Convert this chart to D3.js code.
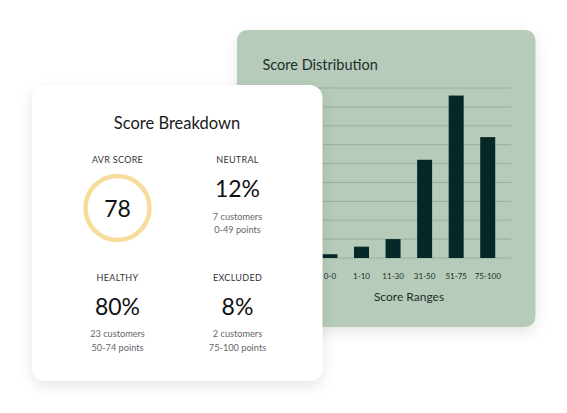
<!DOCTYPE html>
<html><head><meta charset="utf-8">
<script src="https://cdn.jsdelivr.net/npm/d3@7/dist/d3.min.js"></script>
<style>
html,body{margin:0;padding:0;background:#ffffff;}
svg{display:block;font-family:Lato,"Noto Sans",sans-serif;}
</style></head>
<body>
<svg id="chart" width="567" height="413"></svg>
<script>
// ---- data ----
const categories = ["0-0", "1-10", "11-30", "31-50", "51-75", "75-100"];
const counts = [1, 3, 5, 26, 43, 32];
const gridTicks = [0, 5, 10, 15, 20, 25, 30, 35, 40, 45];
const chartTitle = "Score Distribution";
const xAxisTitle = "Score Ranges";
const cardTitle = "Score Breakdown";
const avgScore = 78;
const statLabels = ["NEUTRAL", "HEALTHY", "EXCLUDED"];
const statPercents = ["12%", "80%", "8%"];
const statCustomers = ["7 customers", "23 customers", "2 customers"];
const statPoints = ["0-49 points", "50-74 points", "75-100 points"];

const svg = d3.select("#chart");
const defs = svg.append("defs");
const f = defs.append("filter").attr("id","sh").attr("x","-20%").attr("y","-20%").attr("width","140%").attr("height","140%");
f.append("feDropShadow").attr("dx",0).attr("dy",5).attr("stdDeviation",7).attr("flood-color","#000").attr("flood-opacity",0.10);

// ---- green panel ----
svg.append("rect").attr("x",237).attr("y",30).attr("width",298.5).attr("height",297)
  .attr("rx",10).attr("fill","#b6cbba").attr("filter","url(#sh)");

svg.append("text").attr("x",262.5).attr("y",64.5).attr("dominant-baseline","central")
  .attr("font-size",14.5).attr("fill","#1d2e2a").text(chartTitle);

const x = d3.scaleBand().domain(categories).range([314.2, 503.5]).paddingInner(0.525).paddingOuter(0.2625);
const y = d3.scaleLinear().domain([0, 45]).range([258, 88]);

svg.append("g").selectAll("line").data(gridTicks).join("line")
  .attr("x1",262).attr("x2",511).attr("y1",d=>y(d)).attr("y2",d=>y(d))
  .attr("stroke","#98b09e").attr("stroke-width",1);

svg.append("g").selectAll("rect").data(categories).join("rect")
  .attr("x",d=>x(d)).attr("width",x.bandwidth())
  .attr("y",(d,i)=>y(counts[i])).attr("height",(d,i)=>y(0)-y(counts[i]))
  .attr("fill","#062826");

const xAxis = svg.append("g").attr("transform","translate(0,258)")
  .call(d3.axisBottom(x).tickSize(0).tickPadding(15));
xAxis.select(".domain").remove();
xAxis.selectAll("text").attr("font-size",8).attr("fill","#1d2e2a").attr("font-family","Lato,sans-serif");

svg.append("text").attr("x",409).attr("y",296).attr("text-anchor","middle").attr("dominant-baseline","central")
  .attr("font-size",12).attr("fill","#1d2e2a").text(xAxisTitle);

// ---- white card ----
svg.append("rect").attr("x",32).attr("y",85).attr("width",290.5).attr("height",296)
  .attr("rx",13).attr("fill","#ffffff").attr("filter","url(#sh)");

svg.append("text").attr("x",177).attr("y",122.5).attr("text-anchor","middle").attr("dominant-baseline","central")
  .attr("font-size",16.5).attr("fill","#1a1a1a").text(cardTitle);

// avg score
svg.append("text").attr("x",117.5).attr("y",159.5).attr("text-anchor","middle").attr("dominant-baseline","central")
  .attr("font-size",9).attr("fill","#333").attr("letter-spacing",0.3).text("AVR SCORE");
svg.append("circle").attr("cx",117.5).attr("cy",208).attr("r",32)
  .attr("fill","none").attr("stroke","#f7dc9c").attr("stroke-width",4.5);
svg.append("text").attr("x",117.5).attr("y",208).attr("text-anchor","middle").attr("dominant-baseline","central")
  .attr("font-size",23).attr("fill","#111").text(avgScore);

// stats
const pos = [[237.5,159.5],[117.5,277],[237.5,277]];
statLabels.forEach((lab,i)=>{
  const [cx,cy] = pos[i];
  const g = svg.append("g");
  g.append("text").attr("x",cx).attr("y",cy).attr("text-anchor","middle").attr("dominant-baseline","central")
    .attr("font-size",9).attr("fill","#333").attr("letter-spacing",0.3).text(lab);
  g.append("text").attr("x",cx).attr("y",cy+28.5).attr("text-anchor","middle").attr("dominant-baseline","central")
    .attr("font-size",23).attr("fill","#111").text(statPercents[i]);
  g.append("text").attr("x",cx).attr("y",cy+56.5).attr("text-anchor","middle").attr("dominant-baseline","central")
    .attr("font-size",9.2).attr("fill","#666").text(statCustomers[i]);
  g.append("text").attr("x",cx).attr("y",cy+70).attr("text-anchor","middle").attr("dominant-baseline","central")
    .attr("font-size",9.2).attr("fill","#666").text(statPoints[i]);
});
</script>
</body></html>
